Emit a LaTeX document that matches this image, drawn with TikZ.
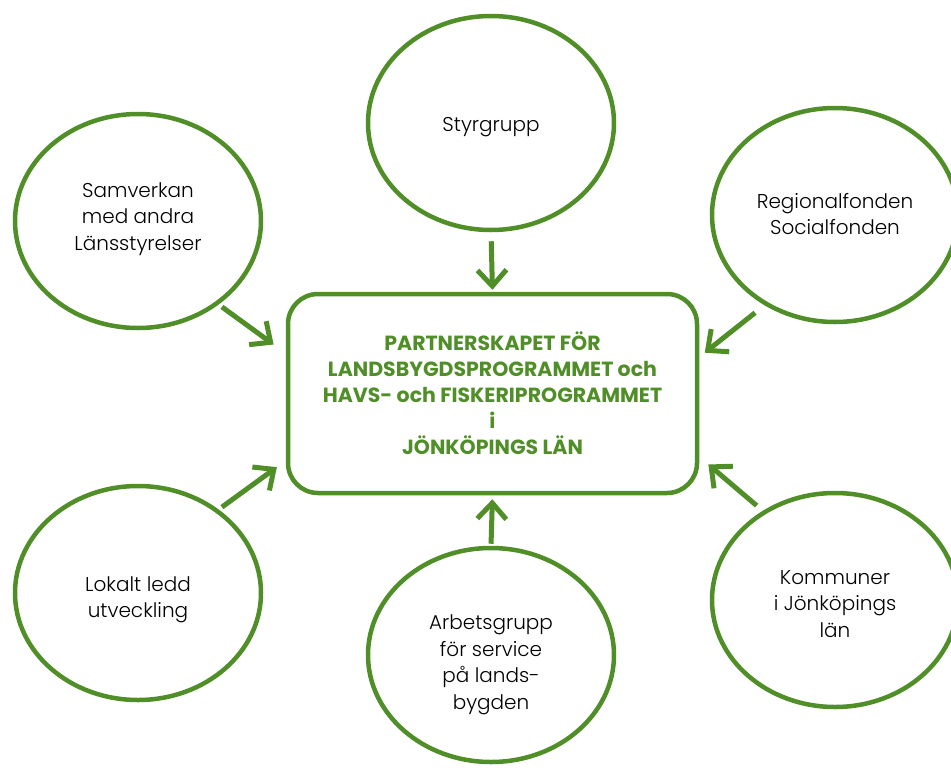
\documentclass[tikz,border=0pt]{standalone}
\usepackage{fontspec}
\setmainfont{Poppins}[UprightFont={* Light}, BoldFont={* Bold}]
\usetikzlibrary{shapes.geometric,arrows.meta}
\definecolor{leafgreen}{RGB}{80,142,40}

\begin{document}
\begin{tikzpicture}[
    x=1pt, y=-1pt,
    % Define Styles
    bubble/.style={
        ellipse,
        draw=leafgreen,
        line width=4.5pt,
        minimum width=246pt,
        minimum height=214pt,
        inner sep=0pt
    },
    blurb/.style={
        align=center,
        inner sep=0pt,
        font=\fontsize{20}{26.5}\selectfont
    },
    hub/.style={
        draw=leafgreen,
        line width=4.5pt,
        rounded corners=30pt,
        minimum width=409pt,
        minimum height=199pt,
        align=center,
        text=leafgreen,
        font=\fontsize{20.5}{26}\selectfont\bfseries
    },
    feed/.style={
        draw=leafgreen,
        line width=5pt,
        -{Straight Barb[length=16pt,width=29pt]}
    }
    ]

    % Page frame
    \useasboundingbox (0,0) rectangle (951,774);

    % Circles
    \node[bubble] (styr) at (491,123) {};
    \node[bubble] (samv) at (138,221) {};
    \node[bubble] (regf) at (835,215) {};
    \node[bubble] (lokal) at (138,593) {};
    \node[bubble] (komm) at (835,600) {};
    \node[bubble] (arbg) at (491,655) {};

    % Texts in the circles
    \node[blurb] (styrtext) at (491,127) {Styrgrupp};
    \node[blurb] (samvtext) at (138,219) {Samverkan\\med andra\\Länsstyrelser};
    \node[blurb] (regftext) at (835,214) {Regionalfonden\\Socialfonden};
    \node[blurb] (lokaltext) at (138,600) {Lokalt ledd\\utveckling};
    \node[blurb] (kommtext) at (835,604) {Kommuner\\i Jönköpings\\län};
    \node[blurb] (arbgtext) at (491,665) {Arbetsgrupp\\för service\\på lands-\\bygden};

    \node[hub] (partner) at (492.5,393.5)
        {PARTNERSKAPET FÖR\\LANDSBYGDSPROGRAMMET och\\HAVS- och FISKERIPROGRAMMET\\i\\JÖNKÖPINGS LÄN};

    % Arrows into the partnership
    \draw[feed, shorten <=9pt, shorten >=2pt] (styr.south) -- (partner.north);
    \draw[feed, shorten <=4pt, shorten >=15pt] (samv.-46) -- (partner.169);
    \draw[feed, shorten <=12pt, shorten >=7pt] (regf.232) -- (partner.10.5);
    \draw[feed, shorten <=4pt, shorten >=11pt] (lokal.46) -- (partner.198);
    \draw[feed, shorten <=8pt, shorten >=12pt] (komm.129) -- (partner.-17);
    \draw[feed, shorten <=2pt, shorten >=4pt] (arbg.north) -- (partner.south);

\end{tikzpicture}
\end{document}
